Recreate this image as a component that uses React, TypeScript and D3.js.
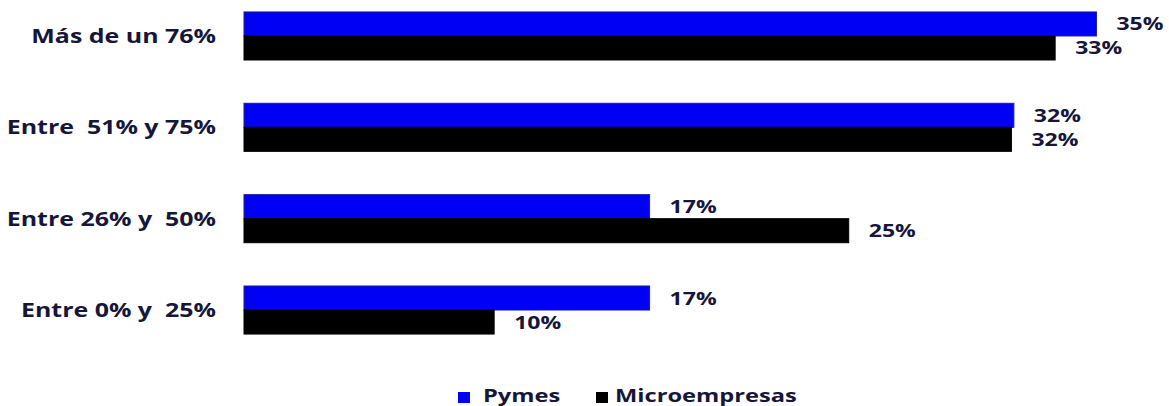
import React from "react";
import * as d3 from "d3";

const categories = ["Más de un 76%", "Entre  51% y 75%", "Entre 26% y  50%", "Entre 0% y  25%"];
const seriesNames = ["Pymes", "Microempresas"];
const pymes = [35.1, 31.7, 16.7, 16.7];
const micro = [33.4, 31.6, 24.9, 10.3];
const colors = ["#0000f5", "#000000"];

const W = 1169;
const H = 406;
const FONT = "'Open Sans', sans-serif";
const TEXT = "#16163a";
const SX = 1.28;

function Label(props: { x: number; y: number; size: number; anchor?: string; children: string }) {
  const { x, y, size, anchor = "start", children } = props;
  return (
    <text
      transform={`translate(${x},${y}) scale(${SX},1)`}
      textAnchor={anchor}
      fontSize={size}
      fontWeight={700}
      fill={TEXT}
      style={{ whiteSpace: "pre" }}
    >
      {children}
    </text>
  );
}

export default function App() {
  const x = d3.scaleLinear().domain([0, 35]).range([244, 1094]);
  const y = d3
    .scaleBand<string>()
    .domain(categories)
    .range([-9.7, 355.7])
    .paddingInner(0.474)
    .paddingOuter(0.237);
  const inner = d3.scaleBand<string>().domain(seriesNames).range([0, y.bandwidth()]);
  const series = [pymes, micro];

  return (
    <svg
      width={W}
      height={H}
      style={{ position: "absolute", left: 0, top: 0, background: "#fff" }}
      fontFamily={FONT}
    >
      {categories.map((c, i) => (
        <g key={c}>
          <Label x={216} y={(y(c) ?? 0) + y.bandwidth() / 2 + 7} size={19.5} anchor="end">
            {c}
          </Label>
          {seriesNames.map((s, j) => {
            const v = series[j][i];
            const by = (y(c) ?? 0) + (inner(s) ?? 0);
            return (
              <g key={s}>
                <rect
                  x={x(0)}
                  y={by}
                  width={x(v) - x(0)}
                  height={inner.bandwidth()}
                  fill={colors[j]}
                  stroke={j === 0 ? "#1a1a9a" : "#000"}
                  strokeWidth={1}
                />
                <Label x={x(v) + 20} y={by + inner.bandwidth() / 2 + 6.5} size={18}>
                  {Math.round(v) + "%"}
                </Label>
              </g>
            );
          })}
        </g>
      ))}
      {seriesNames.map((s, j) => {
        const lx = [458, 596][j];
        const tx = [483, 615][j];
        return (
          <g key={"leg" + s}>
            <rect x={lx} y={392} width={12} height={11} fill={colors[j]} />
            <Label x={tx} y={402} size={18.5}>
              {s}
            </Label>
          </g>
        );
      })}
    </svg>
  );
}
